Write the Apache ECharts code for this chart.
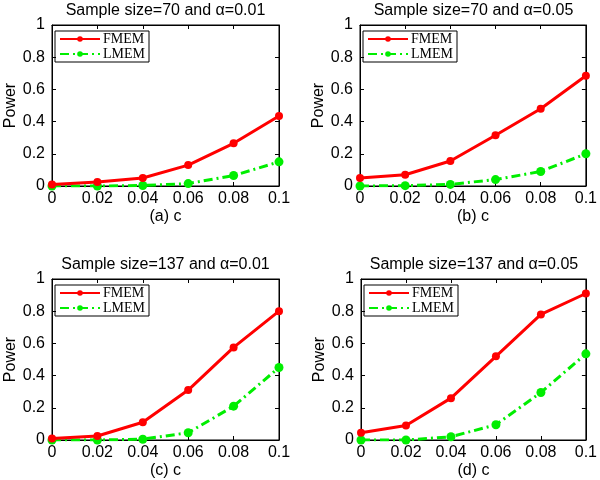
<!DOCTYPE html>
<html><head><meta charset="utf-8">
<script src="https://cdn.jsdelivr.net/npm/echarts@6/dist/echarts.min.js"></script>
<style>html,body{margin:0;padding:0;background:#fff}#c{width:600px;height:480px}</style>
</head><body><div id="c"></div>
<script>
const cValues = [0, 0.02, 0.04, 0.06, 0.08, 0.1];
const titles = ['Sample size=70 and \u03b1=0.01','Sample size=70 and \u03b1=0.05','Sample size=137 and \u03b1=0.01','Sample size=137 and \u03b1=0.05'];
const xNames = ['(a) c','(b) c','(c) c','(d) c'];
const fmemA = [0.01, 0.025, 0.05, 0.13, 0.265, 0.435];
const lmemA = [0.0, 0.0, 0.003, 0.015, 0.065, 0.15];
const fmemB = [0.05, 0.07, 0.155, 0.315, 0.48, 0.685];
const lmemB = [0.0, 0.002, 0.01, 0.04, 0.09, 0.2];
const fmemC = [0.01, 0.025, 0.11, 0.31, 0.575, 0.80];
const lmemC = [0.0, 0.0, 0.005, 0.045, 0.21, 0.45];
const fmemD = [0.045, 0.09, 0.26, 0.52, 0.78, 0.91];
const lmemD = [0.0, 0.0, 0.02, 0.095, 0.295, 0.535];
const fmem = [fmemA, fmemB, fmemC, fmemD];
const lmem = [lmemA, lmemB, lmemC, lmemD];

const grids = [
  {left: 52, top: 25, width: 227, height: 161},
  {left: 360, top: 25, width: 227, height: 161},
  {left: 52, top: 279, width: 227, height: 161},
  {left: 361, top: 279, width: 226, height: 161}
];
const font = 'Liberation Sans, Arial, sans-serif';
const option = {animation: false, title: [], legend: [], grid: [], xAxis: [], yAxis: [], series: []};
grids.forEach((g, i) => {
  option.grid.push(Object.assign({show: true, borderColor: '#000', borderWidth: 1, backgroundColor: 'transparent'}, g));
  option.title.push({text: titles[i], left: g.left + g.width / 2, top: g.top - 22, textAlign: 'center', padding: 0,
    textStyle: {fontFamily: font, fontWeight: 'normal', fontSize: 16, color: '#000'}});
  option.legend.push({
    data: ['FMEM', 'LMEM'], orient: 'vertical', left: g.left + 3, top: g.top + 6,
    borderColor: '#000', borderWidth: 1, padding: [1, 4, 1, 4], itemGap: 1,
    itemWidth: 40, itemHeight: 7, selectedMode: false,
    textStyle: {fontFamily: 'Liberation Serif, Times New Roman, serif', fontSize: 14, color: '#000', lineHeight: 11, padding: [0, 0, 0, -2]}
  });
  const common = {gridIndex: i, type: 'value', axisLine: {show: true, onZero: false, lineStyle: {color: '#000'}},
    axisTick: {show: true, inside: true, length: 4, lineStyle: {color: '#000'}}, splitLine: {show: false}};
  option.xAxis.push(Object.assign({}, common, {min: 0, max: 0.1, interval: 0.02, position: 'bottom',
    name: xNames[i], nameLocation: 'middle', nameGap: 23,
    nameTextStyle: {fontFamily: font, fontSize: 16, color: '#000'},
    axisLabel: {fontFamily: font, fontSize: 16, color: '#000', margin: 5}}));
  option.xAxis.push(Object.assign({}, common, {min: 0, max: 0.1, interval: 0.02, position: 'top', axisLabel: {show: false}}));
  option.yAxis.push(Object.assign({}, common, {min: 0, max: 1, interval: 0.2, position: 'left',
    name: 'Power', nameLocation: 'middle', nameGap: 32,
    nameTextStyle: {fontFamily: font, fontSize: 16, color: '#000'},
    axisLabel: {fontFamily: font, fontSize: 16, color: '#000', margin: 7}}));
  option.yAxis.push(Object.assign({}, common, {min: 0, max: 1, interval: 0.2, position: 'right', axisLabel: {show: false}}));
  option.series.push({
    name: 'FMEM', type: 'line', xAxisIndex: 2 * i, yAxisIndex: 2 * i,
    data: cValues.map((c, k) => [c, fmem[i][k]]),
    symbol: 'circle', symbolSize: 8, color: '#ff0000',
    lineStyle: {width: 3, color: '#ff0000'}, itemStyle: {color: '#ff0000'}, z: 3
  });
  option.series.push({
    name: 'LMEM', type: 'line', xAxisIndex: 2 * i, yAxisIndex: 2 * i,
    data: cValues.map((c, k) => [c, lmem[i][k]]),
    symbol: 'circle', symbolSize: 9, color: '#00ee00',
    lineStyle: {width: 3, color: '#00ee00', type: [9, 4, 2, 4]}, itemStyle: {color: '#00ee00'}, z: 2
  });
});
const chart = echarts.init(document.getElementById('c'), null, {renderer: 'canvas'});
chart.setOption(option);
</script></body></html>
